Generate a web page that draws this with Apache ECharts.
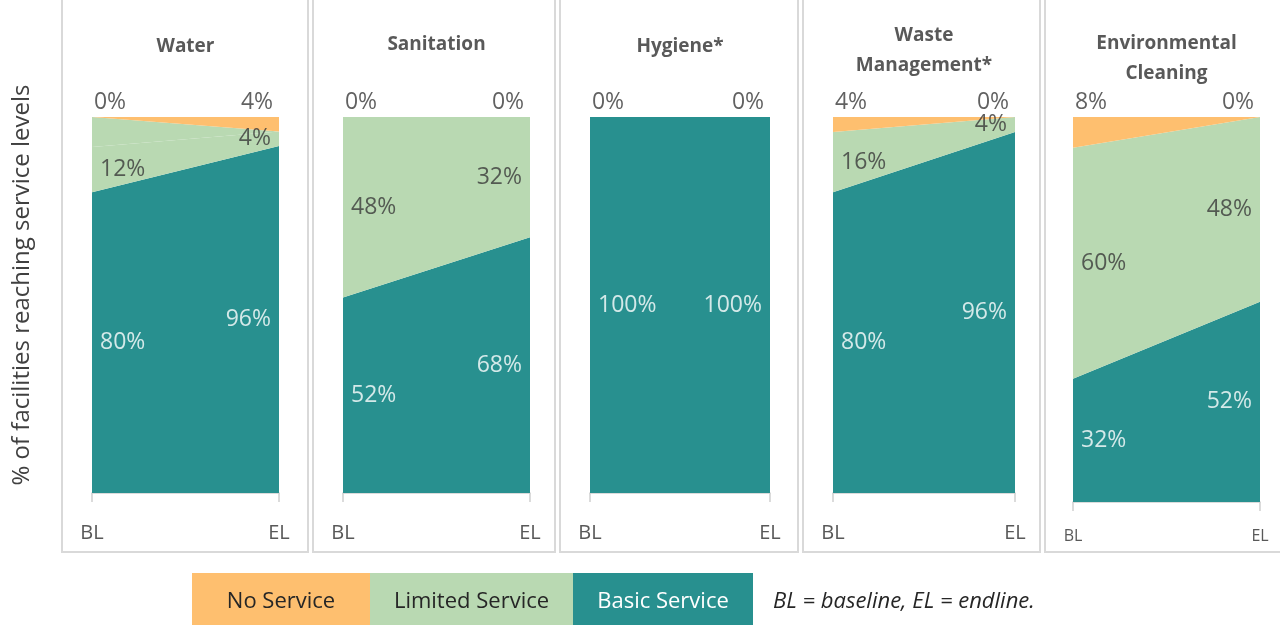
<!DOCTYPE html>
<html>
<head>
<meta charset="utf-8">
<script src="https://cdn.jsdelivr.net/npm/echarts@6/dist/echarts.min.js"></script>
<style>
    html, body { margin: 0; padding: 0; background: #fff; }
    #chart { width: 1280px; height: 625px; }
</style>
</head>
<body>
<div id="chart"></div>
<script>
// data
var periods = ['BL', 'EL'];
var panelTitles = ['Water', 'Sanitation', 'Hygiene*', 'Waste\nManagement*', 'Environmental\nCleaning'];
var serviceLevels = ['No Service', 'Limited Service', 'Basic Service'];
var basicService = [[80, 96], [52, 68], [100, 100], [80, 96], [32, 52]];
var limitedService = [[12, 4], [48, 32], [0, 0], [16, 4], [60, 48]];
var noService = [[0, 4], [0, 0], [0, 0], [4, 0], [8, 0]];
// unlabelled part of the water baseline, drawn in the limited colour
var unlabelled = [[8, 0], [0, 0], [0, 0], [0, 0], [0, 0]];

var colors = { none: '#FEBF6F', limited: '#B9D9B2', basic: '#28908F' };
var font = '"Open Sans", "DejaVu Sans", sans-serif';

// panel layout (pixels)
var panels = [
    { left: 92, width: 187, bottom: 493, frameX: 62, frameW: 246, titleY: 47, tick: 20 },
    { left: 343, width: 187, bottom: 493, frameX: 313, frameW: 242, titleY: 45, tick: 20 },
    { left: 590, width: 180, bottom: 493, frameX: 560, frameW: 238, titleY: 47, tick: 20 },
    { left: 833, width: 182, bottom: 493, frameX: 803, frameW: 237, titleY: 51, tick: 20 },
    { left: 1073, width: 187, bottom: 502, frameX: 1045, frameW: 260, titleY: 59, tick: 16 }
];

var grids = [], xAxes = [], yAxes = [], series = [], graphics = [];

panels.forEach(function (p, i) {
    grids.push({ left: p.left, width: p.width, top: 117, height: p.bottom - 117 });
    xAxes.push({
        gridIndex: i,
        type: 'category',
        data: periods,
        boundaryGap: false,
        axisLine: { lineStyle: { color: '#D0D0D0', width: 1.5 } },
        axisTick: { show: true, length: 9, lineStyle: { color: '#D0D0D0', width: 1.5 } },
        axisLabel: { color: '#595959', fontSize: p.tick, fontFamily: font, margin: p.tick === 20 ? 30 : 26 }
    });
    yAxes.push({ gridIndex: i, type: 'value', min: 0, max: 100, show: false });

    var totals = periods.map(function (_, j) {
        return basicService[i][j] + limitedService[i][j] + unlabelled[i][j] + noService[i][j];
    });
    function share(arr) {
        return arr[i].map(function (v, j) { return v / totals[j] * 100; });
    }
    var sBasic = share(basicService), sLimited = share(limitedService),
        sExtra = share(unlabelled), sNone = share(noService);

    function area(name, data, color) {
        return {
            name: name, type: 'line', xAxisIndex: i, yAxisIndex: i, stack: 'p' + i,
            data: data, symbol: 'none', silent: true, z: 2,
            lineStyle: { width: 0 },
            areaStyle: { color: color, opacity: 1 }
        };
    }
    series.push(area('Basic Service', sBasic, colors.basic));
    series.push(area('Limited Service', sLimited, colors.limited));
    series.push(area('extra', sExtra, colors.limited));
    series.push(area('No Service', sNone, colors.none));

    // value labels
    var labelData = [];
    periods.forEach(function (_, j) {
        var side = j === 0 ? 'right' : 'left';
        labelData.push({
            value: [j, sBasic[j] / 2],
            label: { position: side, formatter: basicService[i][j] + '%', color: '#fff' }
        });
        if (limitedService[i][j] > 0) {
            labelData.push({
                value: [j, sBasic[j] + sLimited[j] / 2],
                label: { position: side, formatter: limitedService[i][j] + '%', color: '#3A3A3A' }
            });
        }
        labelData.push({
            value: [j, 100],
            label: { position: 'top', distance: 3, offset: [j === 0 ? 18 : -22, 0],
                     formatter: noService[i][j] + '%', color: '#3A3A3A' }
        });
    });
    series.push({
        type: 'scatter', xAxisIndex: i, yAxisIndex: i, symbolSize: 0, silent: true, z: 10, clip: false,
        itemStyle: { color: 'rgba(0,0,0,0)' },
        data: labelData,
        label: { show: true, fontSize: 23, fontFamily: font, distance: 8 }
    });

    // panel frame and title
    graphics.push({
        type: 'rect', shape: { x: p.frameX, y: -10, width: p.frameW, height: 562 },
        style: { fill: null, stroke: '#D9D9D9', lineWidth: 2 }, z: -1
    });
    graphics.push({
        type: 'text', x: p.left + p.width / 2, y: p.titleY,
        style: {
            text: panelTitles[i], fill: '#595959', fontSize: 19, fontWeight: 'bold', fontFamily: font,
            lineHeight: 30, align: 'center', verticalAlign: 'middle'
        }
    });
});

// y axis title
graphics.push({
    type: 'text', x: 22, y: 285, rotation: Math.PI / 2,
    style: {
        text: '% of facilities reaching service levels', fill: '#404040', fontSize: 24, fontFamily: font,
        align: 'center', verticalAlign: 'middle'
    }
});

// legend boxes
var legendBoxes = [
    { x: 192, w: 178, color: colors.none, text: '#262626' },
    { x: 370, w: 203, color: colors.limited, text: '#262626' },
    { x: 573, w: 180, color: colors.basic, text: '#fff' }
];
legendBoxes.forEach(function (b, k) {
    graphics.push({ type: 'rect', shape: { x: b.x, y: 573, width: b.w, height: 52 }, style: { fill: b.color } });
    graphics.push({
        type: 'text', x: b.x + b.w / 2, y: 602,
        style: { text: serviceLevels[k], fill: b.text, fontSize: 22, fontFamily: font, align: 'center', verticalAlign: 'middle' }
    });
});
graphics.push({
    type: 'text', x: 773, y: 602,
    style: { text: 'BL = baseline, EL = endline.', fill: '#262626', fontSize: 22, fontStyle: 'italic',
             fontFamily: font, align: 'left', verticalAlign: 'middle' }
});

var myChart = echarts.init(document.getElementById('chart'));
myChart.setOption({
    animation: false,
    grid: grids,
    xAxis: xAxes,
    yAxis: yAxes,
    series: series,
    graphic: graphics
});
</script>
</body>
</html>
